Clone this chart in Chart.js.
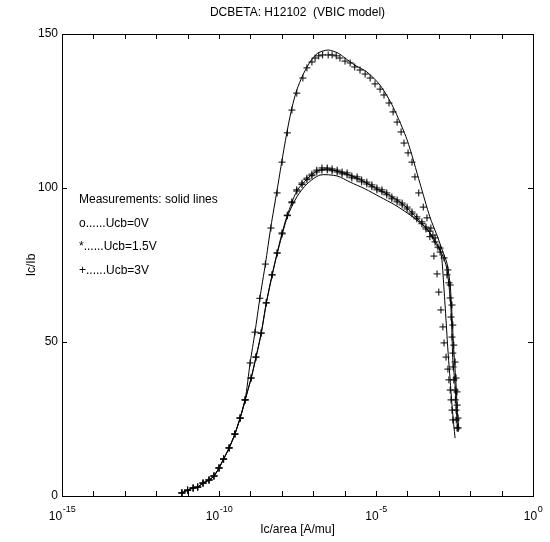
<!DOCTYPE html>
<html>
<head>
<meta charset="utf-8">
<title>DCBETA: H12102 (VBIC model)</title>
<script src="https://cdn.jsdelivr.net/npm/chart.js@4"></script>
<style>
  html, body { margin: 0; padding: 0; background: #fff; }
</style>
</head>
<body>
<canvas id="betaChart" width="550" height="542"></canvas>
<script>
// Ic/area [A/mu] and Ic/Ib.
// sim* = model points (+ markers), meas* = measurements (solid lines)

const sim0Ic = [6.6e-12, 1.0e-11, 1.5e-11, 2.1e-11, 3.1e-11, 4.8e-11, 6.9e-11, 1.0e-10, 1.4e-10, 2.1e-10, 3.2e-10, 4.7e-10, 6.8e-10,
  1.05e-9, 1.5e-9, 2.2e-9, 3.2e-9, 4.9e-9, 7.1e-9, 1.02e-8, 1.5e-8, 2.1e-8, 3.0e-8, 4.4e-8, 6.3e-8, 9.1e-8, 1.3e-7, 1.9e-7, 2.8e-7,
  4.0e-7, 5.8e-7, 8.3e-7, 1.2e-6, 1.7e-6, 2.5e-6, 3.5e-6, 5.1e-6, 7.4e-6, 1.07e-5, 1.55e-5, 2.2e-5, 3.2e-5, 4.7e-5, 6.8e-5, 9.8e-5,
  1.4e-4, 2.0e-4, 2.9e-4, 3.9e-4, 5.2e-4, 7.0e-4, 8.8e-4, 1.0e-3, 1.17e-3, 1.35e-3, 1.47e-3, 1.7e-3, 1.95e-3, 2.1e-3, 2.3e-3,
  2.45e-3, 2.63e-3, 2.8e-3];
const sim0B = [1.0, 1.9, 2.6, 2.9, 4.2, 5.2, 6.5, 9.1, 12.0, 15.6, 20.1, 25.3, 31.2,
  38.3, 45.1, 52.9, 62.7, 71.8, 78.9, 85.1, 91.0, 95.2, 99.0, 101.1, 102.7, 104.0, 105.2, 105.8, 105.9,
  105.6, 105.2, 104.6, 104.3, 103.3, 103.0, 102.0, 101.3, 100.4, 99.4, 98.8, 97.8, 96.5, 95.5, 94.5, 93.2,
  91.6, 90.0, 88.4, 86.7, 84.2, 77.9, 72.1, 66.2, 60.4, 54.9, 49.7, 45.1, 41.2, 37.7, 34.4,
  31.2, 27.9, 24.7];

const sim15Ic = [6.6e-12, 1.0e-11, 1.5e-11, 2.1e-11, 3.1e-11, 4.8e-11, 6.9e-11, 1.0e-10, 1.4e-10, 2.1e-10, 3.2e-10, 4.7e-10, 6.8e-10,
  1.05e-9, 1.5e-9, 2.2e-9, 3.2e-9, 4.9e-9, 7.1e-9, 1.02e-8, 1.5e-8, 2.1e-8, 3.0e-8, 4.4e-8, 6.3e-8, 9.1e-8, 1.3e-7, 1.9e-7, 2.8e-7,
  4.0e-7, 5.8e-7, 8.3e-7, 1.2e-6, 1.7e-6, 2.5e-6, 3.5e-6, 5.1e-6, 7.4e-6, 1.07e-5, 1.55e-5, 2.2e-5, 3.2e-5, 4.7e-5, 6.8e-5, 9.8e-5,
  1.4e-4, 2.0e-4, 2.9e-4, 3.9e-4, 5.2e-4, 6.5e-4, 7.6e-4, 9.4e-4, 1.1e-3, 1.82e-3, 2.1e-3, 2.3e-3, 2.45e-3, 2.63e-3, 2.8e-3,
  2.85e-3, 3.0e-3, 3.3e-3, 3.35e-3, 3.55e-3, 3.6e-3, 3.8e-3];
const sim15B = [1.0, 1.9, 2.6, 2.9, 4.2, 5.2, 6.5, 9.1, 12.0, 15.6, 20.1, 25.3, 31.2,
  38.3, 45.1, 52.9, 62.7, 71.8, 78.9, 85.4, 91.2, 95.5, 99.4, 101.6, 103.2, 104.5, 105.8, 106.5, 106.5,
  106.2, 105.8, 105.2, 104.9, 103.9, 103.6, 102.6, 101.9, 101.0, 100.0, 99.4, 98.4, 97.1, 96.1, 95.1, 93.8,
  92.2, 90.6, 89.0, 87.3, 86.0, 84.7, 82.5, 80.8, 79.2, 71.8, 69.2, 64.3, 58.1, 51.6, 46.4,
  41.9, 37.7, 34.4, 31.2, 27.9, 24.7, 22.1];

const sim3Ic = [6.6e-12, 1.0e-11, 1.5e-11, 2.1e-11, 3.1e-11, 4.8e-11, 6.9e-11, 1.0e-10, 1.4e-10, 2.1e-10, 3.2e-10, 4.7e-10, 6.8e-10,
  9.8e-10, 1.4e-9, 2.0e-9, 3.0e-9, 4.5e-9, 7.1e-9, 1.02e-8, 1.5e-8, 2.1e-8, 3.0e-8, 4.7e-8, 6.3e-8, 9.1e-8, 1.15e-7, 1.5e-7, 2.0e-7,
  3.0e-7, 4.0e-7, 5.4e-7, 7.1e-7, 1.03e-6, 1.5e-6, 2.1e-6, 3.1e-6, 4.5e-6, 6.5e-6, 9.3e-6, 1.35e-5, 1.8e-5, 2.6e-5, 3.5e-5, 4.7e-5,
  6.3e-5, 7.8e-5, 1.05e-4, 1.4e-4, 1.74e-4, 2.3e-4, 3.2e-4, 4.2e-4, 5.6e-4, 7.6e-4, 1.1e-3, 1.47e-3, 1.95e-3, 2.3e-3, 2.63e-3,
  2.8e-3, 3.0e-3, 3.3e-3, 3.55e-3, 3.8e-3, 3.85e-3, 4.1e-3, 4.15e-3];
const sim3B = [1.0, 1.9, 2.6, 2.9, 4.2, 5.2, 6.5, 9.1, 12.0, 15.6, 20.1, 25.3, 31.2,
  43.2, 53.2, 64.2, 75.3, 87.0, 98.4, 108.4, 117.9, 125.3, 130.8, 135.7, 139.0, 140.9, 142.2, 142.9, 143.2,
  143.2, 143.2, 142.9, 142.2, 141.2, 140.6, 139.3, 138.3, 137.0, 135.7, 133.8, 132.1, 130.2, 127.6, 124.7, 121.4,
  118.2, 114.6, 111.4, 108.4, 103.6, 98.4, 93.8, 90.3, 87.0, 83.8, 80.5, 77.3, 73.4, 68.5, 62.0,
  55.5, 49.0, 43.5, 38.3, 33.8, 29.5, 25.3, 22.1];

const meas0Ic = [6.6e-12, 1.0e-11, 1.5e-11, 2.1e-11, 3.1e-11, 4.8e-11, 6.9e-11, 1.0e-10, 1.4e-10, 2.1e-10, 3.2e-10, 4.7e-10, 6.8e-10,
  1.05e-9, 1.5e-9, 2.2e-9, 3.2e-9, 4.9e-9, 7.1e-9, 1.5e-8, 3.0e-8, 6.3e-8, 1.65e-7, 5.8e-7, 1.5e-6, 4.5e-6, 1.35e-5, 4.0e-5,
  1.5e-4, 4.5e-4, 7.6e-4, 1.1e-3, 1.26e-3, 1.47e-3, 1.7e-3, 1.95e-3, 2.3e-3, 2.63e-3, 3.0e-3, 3.3e-3];
const meas0B = [1.0, 1.9, 2.6, 2.9, 4.2, 5.2, 6.5, 9.1, 12.0, 15.6, 20.1, 25.3, 31.2,
  38.0, 44.8, 52.6, 62.4, 71.5, 78.6, 90.6, 97.1, 101.3, 104.2, 103.9, 101.9, 99.7, 97.1, 94.5,
  90.6, 86.4, 82.1, 79.9, 76.6, 66.9, 57.1, 47.4, 37.7, 29.5, 23.1, 18.8];

const meas15Ic = [6.6e-12, 1.0e-11, 1.5e-11, 2.1e-11, 3.1e-11, 4.8e-11, 6.9e-11, 1.0e-10, 1.4e-10, 2.1e-10, 3.2e-10, 4.7e-10, 6.8e-10,
  1.05e-9, 1.5e-9, 2.2e-9, 3.2e-9, 4.9e-9, 7.1e-9, 1.02e-8, 1.5e-8, 3.0e-8, 6.3e-8, 1.3e-7, 2.8e-7, 5.8e-7, 1.2e-6, 2.5e-6,
  5.1e-6, 1.07e-5, 2.2e-5, 4.7e-5, 9.8e-5, 2.0e-4, 3.9e-4, 6.5e-4, 1.1e-3, 1.7e-3, 2.1e-3, 2.45e-3, 2.63e-3, 2.8e-3,
  3.3e-3, 3.55e-3, 3.8e-3, 4.1e-3];
const meas15B = [1.0, 1.9, 2.6, 2.9, 4.2, 5.2, 6.5, 9.1, 12.0, 15.6, 20.1, 25.3, 31.2,
  38.3, 45.1, 52.9, 62.7, 71.8, 78.9, 85.4, 91.2, 99.0, 102.9, 105.5, 106.2, 105.5, 104.5, 103.2,
  101.6, 99.7, 98.1, 96.1, 93.5, 90.3, 87.0, 84.1, 79.9, 75.0, 68.5, 60.4, 52.3, 44.2,
  36.0, 29.5, 24.7, 20.8];

const meas3Ic = [6.6e-12, 1.0e-11, 1.5e-11, 2.1e-11, 3.1e-11, 4.8e-11, 6.9e-11, 1.0e-10, 1.4e-10, 2.1e-10, 3.2e-10, 4.7e-10, 6.8e-10,
  9.8e-10, 1.4e-9, 2.0e-9, 3.0e-9, 4.5e-9, 7.1e-9, 1.02e-8, 1.5e-8, 2.1e-8, 3.0e-8, 4.7e-8, 7.9e-8, 1.4e-7, 3.0e-7, 6.2e-7,
  1.03e-6, 2.1e-6, 5.1e-6, 1.35e-5, 3.5e-5, 9.8e-5, 2.5e-4, 5.2e-4, 9.4e-4, 1.35e-3, 1.82e-3, 2.3e-3, 2.63e-3, 3.0e-3,
  3.55e-3, 3.8e-3, 4.1e-3, 4.4e-3];
const meas3B = [1.0, 1.9, 2.6, 2.9, 4.2, 5.2, 6.5, 9.1, 12.0, 15.6, 20.1, 25.3, 31.2,
  43.2, 53.2, 64.2, 75.3, 87.5, 99.4, 109.1, 118.8, 126.0, 131.8, 136.7, 140.9, 143.8, 144.8, 143.8,
  142.2, 139.9, 137.7, 133.4, 126.3, 115.6, 101.6, 90.6, 83.8, 79.2, 75.6, 68.5, 58.8, 47.4,
  36.0, 29.5, 24.7, 21.4];

// axis ticks
const xTicks = [1e-15, 1e-14, 1e-13, 1e-12, 1e-11, 1e-10, 1e-9, 1e-8, 1e-7, 1e-6, 1e-5, 1e-4, 1e-3, 1e-2, 1e-1, 1];
const xLabelValues = [1e-15, 1e-10, 1e-5, 1];
const xLabelExps = ["-15", "-10", "-5", "0"];
const yTicks = [0, 50, 100, 150];

const noteLines = ["Measurements: solid lines", "o......Ucb=0V", "*......Ucb=1.5V", "+......Ucb=3V"];

const FONT = "'Liberation Sans', Arial, Helvetica, sans-serif";

function pts(xs, ys) {
    const out = [];
    for (let i = 0; i < Math.min(xs.length, ys.length); i++) out.push({ x: xs[i], y: ys[i] });
    return out;
}

function simSet(label, xs, ys) {
    return {
        label: label,
        data: pts(xs, ys),
        showLine: false,
        pointStyle: "cross",
        pointRadius: 3.5,
        pointBorderWidth: 1,
        pointBorderColor: "#000",
        borderColor: "#000"
    };
}

function measSet(label, xs, ys) {
    return {
        label: label,
        data: pts(xs, ys),
        showLine: true,
        pointRadius: 0,
        borderWidth: 1,
        borderColor: "#000",
        tension: 0.25,
        fill: false
    };
}

// box, inward ticks, labels and texts (MATLAB look)
const matlabFrame = {
    id: "matlabFrame",
    afterDraw(chart) {
        const { ctx, chartArea: a, scales } = chart;
        const xs = scales.x, ys = scales.y;
        const L = a.left, R = a.right, T = a.top, B = a.bottom;
        ctx.save();
        ctx.strokeStyle = "#000";
        ctx.fillStyle = "#000";
        ctx.lineWidth = 1;
        ctx.strokeRect(L + 0.5, T + 0.5, R - L, B - T);

        ctx.beginPath();
        xTicks.forEach(v => {
            const px = Math.round(xs.getPixelForValue(v)) + 0.5;
            ctx.moveTo(px, B); ctx.lineTo(px, B - 5);
            ctx.moveTo(px, T); ctx.lineTo(px, T + 5);
        });
        yTicks.forEach(v => {
            const py = Math.round(ys.getPixelForValue(v)) + 0.5;
            ctx.moveTo(L, py); ctx.lineTo(L + 5, py);
            ctx.moveTo(R, py); ctx.lineTo(R - 5, py);
        });
        ctx.stroke();

        // y tick labels
        ctx.font = "12px " + FONT;
        ctx.textAlign = "right";
        ctx.textBaseline = "middle";
        yTicks.forEach(v => ctx.fillText(String(v), L - 4, ys.getPixelForValue(v)));

        // x tick labels 10^n
        xLabelValues.forEach((v, i) => {
            const px = xs.getPixelForValue(v);
            ctx.font = "12px " + FONT;
            const wBase = ctx.measureText("10").width;
            ctx.font = "9px " + FONT;
            const wExp = ctx.measureText(xLabelExps[i]).width;
            const x0 = px - (wBase + wExp) / 2;
            ctx.textAlign = "left";
            ctx.textBaseline = "alphabetic";
            ctx.font = "12px " + FONT;
            ctx.fillText("10", x0, B + 24);
            ctx.font = "9px " + FONT;
            ctx.fillText(xLabelExps[i], x0 + wBase + 0.5, B + 16);
        });

        // titles
        ctx.font = "12px " + FONT;
        ctx.textAlign = "center";
        ctx.textBaseline = "middle";
        ctx.fillText("DCBETA: H12102  (VBIC model)", (L + R) / 2, 13);
        ctx.fillText("Ic/area [A/mu]", (L + R) / 2, 530);
        ctx.save();
        ctx.translate(32, (T + B) / 2);
        ctx.rotate(-Math.PI / 2);
        ctx.fillText("Ic/Ib", 0, 0);
        ctx.restore();

        // note inside the axes
        ctx.textAlign = "left";
        noteLines.forEach((s, i) => ctx.fillText(s, 79, 200 + i * 23.5));
        ctx.restore();
    }
};

const ctx = document.getElementById("betaChart").getContext("2d");

new Chart(ctx, {
    type: "scatter",
    data: {
        datasets: [
            measSet("meas Ucb=0V", meas0Ic, meas0B),
            measSet("meas Ucb=1.5V", meas15Ic, meas15B),
            measSet("meas Ucb=3V", meas3Ic, meas3B),
            simSet("Ucb=0V", sim0Ic, sim0B),
            simSet("Ucb=1.5V", sim15Ic, sim15B),
            simSet("Ucb=3V", sim3Ic, sim3B)
        ]
    },
    options: {
        responsive: false,
        animation: false,
        events: [],
        layout: { padding: { left: 62, right: 17, top: 34, bottom: 46 } },
        scales: {
            x: { type: "logarithmic", min: 1e-15, max: 1, display: false },
            y: { type: "linear", min: 0, max: 150, display: false }
        },
        plugins: {
            legend: { display: false },
            tooltip: { enabled: false }
        }
    },
    plugins: [matlabFrame]
});
</script>
</body>
</html>
